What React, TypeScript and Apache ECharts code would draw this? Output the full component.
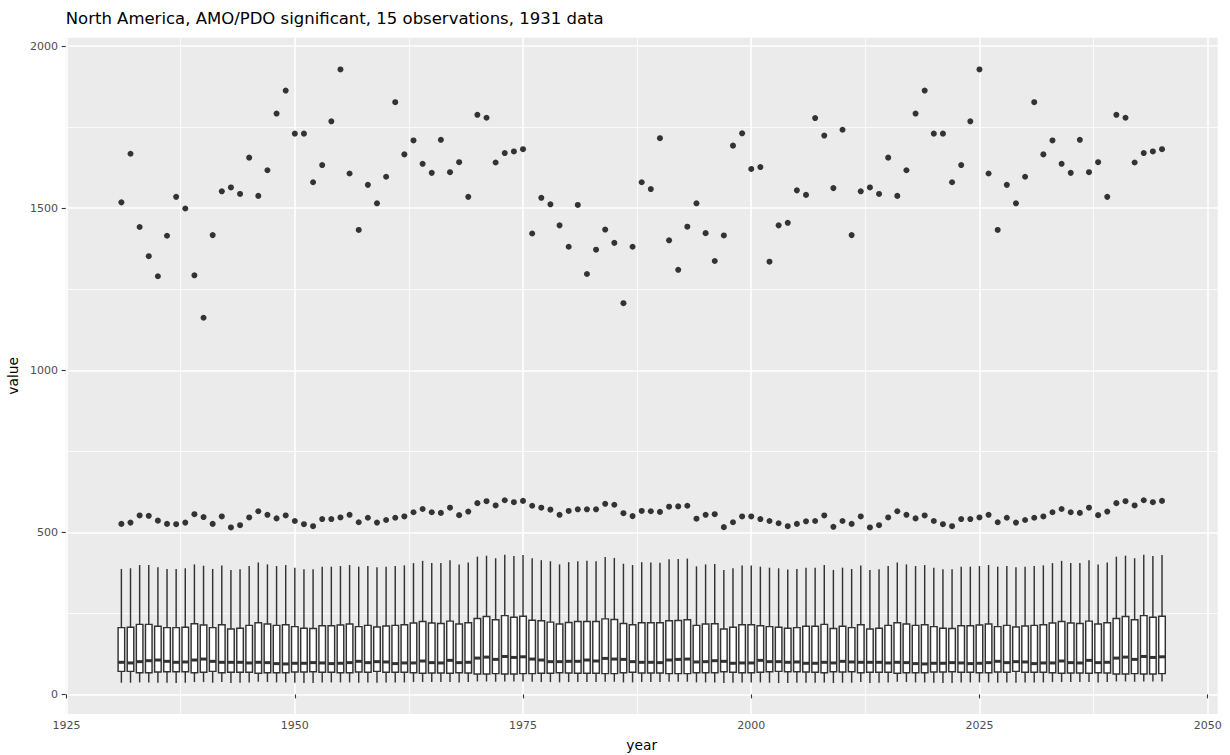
import React, { useEffect, useRef } from "react";
import * as echarts from "echarts";

// Per-year box statistics, one entry per year starting at FIRST_YEAR (1931 … 2045)
const FIRST_YEAR = 1931;

const LOWER_WHISKER = [
  36, 36, 37, 37, 36, 36, 35, 36, 38, 38,
  36, 38, 35, 36, 37, 39, 38, 37, 37, 36,
  35, 35, 37, 37, 37, 37, 36, 37, 36, 37,
  37, 37, 38, 38, 38, 38, 38, 37, 38, 40,
  40, 39, 40, 40, 40, 39, 38, 38, 37, 38,
  38, 38, 38, 39, 39, 37, 37, 38, 38, 38,
  39, 39, 39, 37, 37, 37, 35, 36, 37, 37,
  37, 36, 35, 35, 36, 36, 36, 37, 35, 36,
  36, 38, 35, 36, 37, 39, 38, 37, 37, 36,
  35, 35, 37, 37, 37, 37, 36, 37, 36, 37,
  37, 37, 38, 38, 38, 38, 38, 37, 38, 40,
  40, 39, 40, 40, 40,
];

const Q1 = [
  71, 71, 67, 67, 69, 70, 70, 70, 67, 68,
  71, 67, 68, 68, 68, 65, 67, 67, 67, 69,
  69, 70, 68, 68, 67, 67, 69, 68, 71, 68,
  68, 68, 67, 65, 66, 66, 65, 67, 66, 63,
  63, 64, 63, 63, 64, 64, 65, 65, 67, 66,
  65, 65, 65, 64, 64, 67, 68, 66, 66, 66,
  64, 64, 64, 67, 67, 67, 70, 68, 67, 67,
  68, 70, 71, 70, 70, 69, 68, 67, 70, 69,
  70, 67, 68, 68, 68, 65, 67, 67, 67, 69,
  69, 70, 68, 68, 67, 67, 69, 68, 71, 68,
  68, 68, 67, 65, 66, 66, 65, 67, 66, 63,
  63, 64, 63, 63, 64,
];

const MEDIAN = [
  99, 97, 101, 104, 106, 102, 99, 100, 106, 109,
  102, 99, 99, 99, 97, 99, 98, 95, 94, 96,
  96, 98, 97, 95, 96, 98, 102, 98, 101, 100,
  95, 97, 97, 103, 98, 97, 105, 98, 99, 112,
  115, 108, 117, 114, 116, 109, 106, 101, 101, 102,
  102, 106, 103, 111, 109, 108, 101, 99, 99, 98,
  106, 108, 109, 100, 101, 104, 102, 96, 97, 97,
  105, 101, 101, 99, 100, 96, 96, 99, 97, 102,
  100, 99, 99, 99, 97, 99, 98, 95, 94, 96,
  96, 98, 97, 95, 96, 98, 102, 98, 101, 100,
  95, 97, 97, 103, 98, 97, 105, 98, 99, 112,
  115, 108, 117, 114, 116,
];

const Q3 = [
  206, 207, 216, 216, 210, 206, 206, 207, 218, 214,
  206, 215, 202, 204, 213, 221, 217, 213, 215, 209,
  204, 203, 212, 212, 214, 217, 209, 213, 208, 211,
  213, 215, 220, 225, 220, 219, 226, 217, 221, 234,
  240, 230, 243, 238, 241, 229, 227, 223, 217, 222,
  225, 225, 225, 233, 231, 219, 215, 221, 221, 221,
  227, 228, 230, 213, 217, 218, 202, 207, 215, 215,
  212, 209, 207, 204, 206, 210, 210, 216, 203, 210,
  206, 215, 202, 204, 213, 221, 217, 213, 215, 209,
  204, 203, 212, 212, 214, 217, 209, 213, 208, 211,
  213, 215, 220, 225, 220, 219, 226, 217, 221, 234,
  240, 230, 243, 238, 241,
];

const UPPER_WHISKER = [
  387, 389, 399, 399, 392, 387, 387, 389, 401, 397,
  387, 398, 384, 386, 396, 407, 401, 396, 399, 391,
  386, 386, 394, 394, 396, 399, 394, 396, 392, 394,
  396, 398, 405, 412, 405, 405, 414, 401, 407, 425,
  428, 420, 431, 427, 430, 420, 414, 411, 401, 408,
  411, 412, 411, 424, 421, 403, 399, 408, 407, 406,
  417, 418, 419, 395, 401, 402, 384, 389, 398, 398,
  394, 391, 389, 385, 387, 391, 391, 399, 384, 391,
  387, 398, 384, 386, 396, 407, 401, 396, 399, 391,
  386, 386, 394, 394, 396, 399, 394, 396, 392, 394,
  396, 398, 405, 412, 405, 405, 414, 401, 407, 425,
  428, 420, 431, 427, 430,
];

// Outlying observations: one moderate and one large value per year
const LOW_OUTLIER = [
  526, 530, 552, 551, 536, 526, 525, 530, 556, 547,
  526, 549, 515, 522, 546, 565, 554, 543, 552, 535,
  525, 519, 541, 541, 546, 554, 531, 545, 530, 538,
  545, 549, 562, 572, 562, 560, 576, 553, 564, 590,
  596, 583, 599, 593, 597, 582, 576, 570, 554, 566,
  571, 571, 571, 588, 585, 559, 550, 566, 565, 563,
  579, 580, 582, 542, 554, 556, 516, 531, 549, 549,
  541, 535, 528, 519, 526, 534, 535, 552, 517, 535,
  526, 549, 515, 522, 546, 565, 554, 543, 552, 535,
  525, 519, 541, 541, 546, 554, 531, 545, 530, 538,
  545, 549, 562, 572, 562, 560, 576, 553, 564, 590,
  596, 583, 599, 593, 597,
];

const HIGH_OUTLIER = [
  1518, 1668, 1442, 1352, 1290, 1415, 1535, 1499, 1293, 1162,
  1417, 1552, 1564, 1544, 1656, 1538, 1617, 1792, 1863, 1730,
  1730, 1580, 1633, 1768, 1928, 1607, 1433, 1572, 1515, 1597,
  1827, 1666, 1709, 1637, 1609, 1711, 1611, 1642, 1535, 1788,
  1779, 1641, 1670, 1675, 1682, 1422, 1532, 1512, 1447, 1381,
  1510, 1297, 1372, 1434, 1393, 1207, 1381, 1580, 1559, 1716,
  1401, 1310, 1443, 1515, 1423, 1337, 1416, 1693, 1731, 1621,
  1627, 1335, 1447, 1455, 1555, 1541, 1778, 1724, 1562, 1742,
  1417, 1552, 1564, 1544, 1656, 1538, 1617, 1792, 1863, 1730,
  1730, 1580, 1633, 1768, 1928, 1607, 1433, 1572, 1515, 1597,
  1827, 1666, 1709, 1637, 1609, 1711, 1611, 1642, 1535, 1788,
  1779, 1641, 1670, 1675, 1682,
];

const YEARS = MEDIAN.map((_, i) => FIRST_YEAR + i);

const X_TICKS = [1925, 1950, 1975, 2000, 2025, 2050];
const X_MINOR = [1937.5, 1962.5, 1987.5, 2012.5, 2037.5];
const Y_TICKS = [0, 500, 1000, 1500, 2000];
const Y_MINOR = [250, 750, 1250, 1750];

const TITLE = "North America, AMO/PDO significant, 15 observations, 1931 data";
const X_NAME = "year";
const Y_NAME = "value";

const FONT = "DejaVu Sans";
const INK = "#333333";
const BOX_WIDTH = 0.72;

// Panel limits (continuous scale with a 5% expansion around the data)
const X_MIN = 1924.9;
const X_MAX = 2051.1;
const Y_MIN = -60.5;
const Y_MAX = 2026;

function buildOption(): echarts.EChartsOption {
  const boxData = YEARS.map((y, i) => [y, LOWER_WHISKER[i], Q1[i], MEDIAN[i], Q3[i], UPPER_WHISKER[i]]);
  const outliers: number[][] = [];
  YEARS.forEach((y, i) => {
    outliers.push([y, LOW_OUTLIER[i]]);
    outliers.push([y, HIGH_OUTLIER[i]]);
  });

  const majorX = {
    type: "value" as const,
    min: X_MIN,
    max: X_MAX,
    position: "bottom" as const,
    axisLine: { show: false },
    axisTick: { show: true, customValues: X_TICKS, length: 4, lineStyle: { color: INK, width: 1.1 } },
    axisLabel: {
      customValues: X_TICKS,
      formatter: (v: number) => String(v),
      margin: 6.4,
      color: "#4D4D4D",
      fontFamily: FONT,
      fontSize: 11,
    },
    splitLine: { show: true, lineStyle: { color: "#FFFFFF", width: 1.6 } },
  };
  const minorX = {
    type: "value" as const,
    min: X_MIN,
    max: X_MAX,
    position: "bottom" as const,
    axisLine: { show: false },
    axisTick: { show: false, customValues: X_MINOR },
    axisLabel: { show: false, customValues: X_MINOR },
    splitLine: { show: true, lineStyle: { color: "#FFFFFF", width: 0.8 } },
  };
  const majorY = {
    type: "value" as const,
    min: Y_MIN,
    max: Y_MAX,
    position: "left" as const,
    axisLine: { show: false },
    axisTick: { show: true, customValues: Y_TICKS, length: 4, lineStyle: { color: INK, width: 1.1 } },
    axisLabel: {
      customValues: Y_TICKS,
      formatter: (v: number) => String(v),
      margin: 7.8,
      color: "#4D4D4D",
      fontFamily: FONT,
      fontSize: 11,
    },
    splitLine: { show: true, lineStyle: { color: "#FFFFFF", width: 1.6 } },
  };
  const minorY = {
    type: "value" as const,
    min: Y_MIN,
    max: Y_MAX,
    position: "left" as const,
    axisLine: { show: false },
    axisTick: { show: false, customValues: Y_MINOR },
    axisLabel: { show: false, customValues: Y_MINOR },
    splitLine: { show: true, lineStyle: { color: "#FFFFFF", width: 0.8 } },
  };

  return {
    animation: false,
    backgroundColor: "#FFFFFF",
    grid: {
      left: 65.7,
      right: 12.3,
      top: 37.7,
      bottom: 41,
      show: true,
      backgroundColor: "#EBEBEB",
      borderWidth: 0,
    },
    xAxis: [majorX, minorX] as any,
    yAxis: [majorY, minorY] as any,
    graphic: [
      {
        type: "text",
        x: 65.7,
        y: 18.6,
        style: { text: TITLE, fontFamily: FONT, fontSize: 16.5, fill: "#000000", align: "left", verticalAlign: "middle" },
      },
      {
        type: "text",
        x: 641.7,
        y: 744.7,
        style: { text: X_NAME, fontFamily: FONT, fontSize: 13.75, fill: "#000000", align: "center", verticalAlign: "middle" },
      },
      {
        type: "text",
        x: 13,
        y: 375.9,
        rotation: Math.PI / 2,
        style: { text: Y_NAME, fontFamily: FONT, fontSize: 13.75, fill: "#000000", align: "center", verticalAlign: "middle" },
      },
    ],
    series: [
      {
        type: "custom",
        xAxisIndex: 0,
        yAxisIndex: 0,
        data: boxData,
        encode: { x: 0, y: [1, 2, 3, 4, 5] },
        z: 3,
        renderItem: (_params: any, api: any) => {
          const x = api.value(0);
          const lo = api.coord([x, api.value(1)]);
          const q1 = api.coord([x, api.value(2)]);
          const med = api.coord([x, api.value(3)]);
          const q3 = api.coord([x, api.value(4)]);
          const hi = api.coord([x, api.value(5)]);
          const half = api.size([BOX_WIDTH, 0])[0] / 2;
          const cx = q1[0];
          const stroke = { stroke: INK, lineWidth: 1.45 };
          return {
            type: "group",
            children: [
              { type: "line", shape: { x1: cx, y1: hi[1], x2: cx, y2: q3[1] }, style: stroke },
              { type: "line", shape: { x1: cx, y1: q1[1], x2: cx, y2: lo[1] }, style: stroke },
              {
                type: "rect",
                shape: { x: cx - half, y: q3[1], width: half * 2, height: q1[1] - q3[1] },
                style: { fill: "#FFFFFF", ...stroke },
              },
              {
                type: "line",
                shape: { x1: cx - half, y1: med[1], x2: cx + half, y2: med[1] },
                style: { stroke: INK, lineWidth: 3 },
              },
            ],
          };
        },
      },
      {
        type: "scatter",
        xAxisIndex: 0,
        yAxisIndex: 0,
        data: outliers,
        symbol: "circle",
        symbolSize: 6,
        itemStyle: { color: INK, opacity: 1 },
        z: 4,
      },
    ],
  } as echarts.EChartsOption;
}

export default function App() {
  const ref = useRef<HTMLDivElement>(null);
  useEffect(() => {
    if (!ref.current) return;
    const chart = echarts.init(ref.current, null, { renderer: "svg" });
    chart.setOption(buildOption());
    return () => chart.dispose();
  }, []);
  return (
    <div
      ref={ref}
      style={{ position: "absolute", left: 0, top: 0, width: 1230, height: 755, background: "#FFFFFF" }}
    />
  );
}
